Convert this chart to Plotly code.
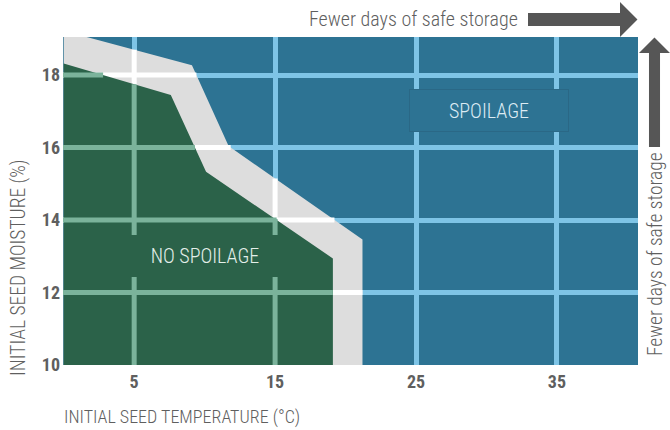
import numpy as np
import plotly.graph_objects as go

# ---- data ----
# upper limit of the grey band (spoilage boundary)
spoil_x = [0.0, 9.1, 11.7, 21.2, 21.2]
spoil_y = [19.22, 18.27, 16.04, 13.46, 10.0]
# upper limit of the green "no spoilage" region
safe_x = [0.0, 7.6, 10.1, 19.1, 19.1]
safe_y = [18.32, 17.45, 15.33, 12.94, 10.0]

x_ticks = [5, 15, 25, 35]
y_ticks = [10, 12, 14, 16, 18]
y_grid = [12, 14, 16, 18]

BLUE = "#2d7393"
BLUE_GRID = "#7ec4e6"
GREY = "#dddddd"
GREEN = "#2b6249"
GREEN_GRID = "#7bb39b"
TXT = "#5f5f5f"
ARROW = "#565656"
FONT = "Roboto Condensed, Roboto, sans-serif"

X_RANGE = [-0.05, 40.75]
Y_RANGE = [10, 19.05]
L, R, T, B = 63, 32, 37, 65
W, H = 670, 430
PW, PH = W - L - R, H - T - B


def seg_lists(bx, by):
    """Grid-line segments lying under a decreasing boundary polyline."""
    bx = np.asarray(bx[:-1])
    by = np.asarray(by[:-1])
    xs, ys = [], []
    x_end = bx[-1]
    for xv in x_ticks:
        if xv <= x_end:
            xs += [xv, xv, None]
            ys += [Y_RANGE[0], float(np.interp(xv, bx, by)), None]
    for yv in y_grid:
        if yv <= by[-1]:
            xe = x_end
        else:
            xe = float(np.interp(yv, by[::-1], bx[::-1]))
        xs += [X_RANGE[0], xe, None]
        ys += [yv, yv, None]
    return xs, ys


fig = go.Figure()

# grey band (everything under the spoilage boundary)
fig.add_trace(go.Scatter(
    x=spoil_x + [0.0, 0.0], y=spoil_y + [10.0, spoil_y[0]],
    fill="toself", fillcolor=GREY, mode="lines", line=dict(width=0),
    hoverinfo="skip", showlegend=False))
gx, gy = seg_lists(spoil_x, spoil_y)
fig.add_trace(go.Scatter(x=gx, y=gy, mode="lines",
                         line=dict(color="white", width=5),
                         hoverinfo="skip", showlegend=False))

# green region
fig.add_trace(go.Scatter(
    x=safe_x + [0.0, 0.0], y=safe_y + [10.0, safe_y[0]],
    fill="toself", fillcolor=GREEN, mode="lines", line=dict(width=0),
    hoverinfo="skip", showlegend=False))
gx, gy = seg_lists(safe_x, safe_y)
fig.add_trace(go.Scatter(x=gx, y=gy, mode="lines",
                         line=dict(color=GREEN_GRID, width=5),
                         hoverinfo="skip", showlegend=False))


def px(xp, yp):
    return (xp - L) / PW, (H - B - yp) / PH


def path(points):
    pts = [px(a, b) for a, b in points]
    return "M " + " L ".join(f"{a:.4f},{b:.4f}" for a, b in pts) + " Z"


shapes = [
    dict(type="path", xref="paper", yref="paper", line=dict(width=0),
         fillcolor=ARROW, layer="above",
         path=path([(528, 13), (620, 13), (620, 2), (637.5, 19.5),
                    (620, 37), (620, 26), (528, 26)])),
    dict(type="path", xref="paper", yref="paper", line=dict(width=0),
         fillcolor=ARROW, layer="above",
         path=path([(649, 147), (649, 53), (639, 53), (654.5, 37.5),
                    (670, 53), (660, 53), (660, 147)])),
]

ann = [
    dict(x=10, y=13, xref="x", yref="y", text="NO SPOILAGE", showarrow=False,
         font=dict(family=FONT, size=20, color="#e4efe9", weight=300),
         bgcolor=GREEN, bordercolor=GREEN, borderwidth=1, borderpad=2,
         width=156, height=36),
    dict(x=30.15, y=17.03, xref="x", yref="y", text="SPOILAGE", showarrow=False,
         font=dict(family=FONT, size=20, color="#dcebf3", weight=300),
         bgcolor=BLUE, bordercolor="#2a6886", borderwidth=1, borderpad=2,
         width=154, height=37),
    dict(x=px(520, 19)[0], y=px(520, 19)[1], xref="paper", yref="paper",
         xanchor="right", yanchor="middle", text="Fewer days of safe storage",
         showarrow=False, font=dict(family=FONT, size=20, color=TXT, weight=300)),
    dict(x=px(655, 254)[0], y=px(655, 254)[1], xref="paper", yref="paper",
         xanchor="center", yanchor="middle", textangle=-90,
         text="Fewer days of safe storage",
         showarrow=False, font=dict(family=FONT, size=19.5, color=TXT, weight=300)),
    dict(x=px(62, 417)[0], y=px(62, 417)[1], xref="paper", yref="paper",
         xanchor="left", yanchor="middle",
         text="INITIAL SEED TEMPERATURE (°C)",
         showarrow=False, font=dict(family=FONT, size=18, color=TXT, weight=300)),
    dict(x=px(18.5, 268.5)[0], y=px(18.5, 268.5)[1], xref="paper", yref="paper",
         xanchor="center", yanchor="middle", textangle=-90,
         text="INITIAL SEED MOISTURE (%)",
         showarrow=False, font=dict(family=FONT, size=19.5, color=TXT, weight=300)),
]

fig.update_layout(
    width=W, height=H,
    margin=dict(l=L, r=R, t=T, b=B, pad=0),
    paper_bgcolor="white", plot_bgcolor=BLUE,
    showlegend=False,
    shapes=shapes, annotations=ann,
    xaxis=dict(range=X_RANGE, tickvals=x_ticks,
               ticktext=[str(v) for v in x_ticks],
               showgrid=True, gridcolor=BLUE_GRID, gridwidth=5,
               zeroline=False, showline=False, ticks="",
               ticklabelstandoff=4,
               tickfont=dict(family=FONT, size=18, color=TXT, weight="bold"),
               fixedrange=True),
    yaxis=dict(range=Y_RANGE, tickvals=y_ticks,
               ticktext=[str(v) for v in y_ticks],
               showgrid=True, gridcolor=BLUE_GRID, gridwidth=5,
               zeroline=False, showline=False, ticks="",
               ticklabelstandoff=2,
               tickfont=dict(family=FONT, size=18, color=TXT, weight="bold"),
               fixedrange=True),
)

fig.write_html("out.html", config={"displayModeBar": False},
               post_script="document.body.style.margin='0';")
